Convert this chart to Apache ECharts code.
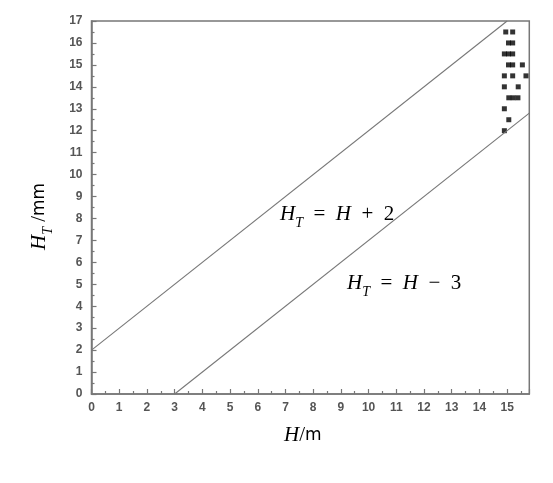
<!DOCTYPE html>
<html>
<head>
<meta charset="utf-8">
<script src="https://cdn.jsdelivr.net/npm/echarts@6/dist/echarts.min.js"></script>
<style>html,body{margin:0;padding:0;background:#fff}#c{width:553px;height:483px}</style>
</head>
<body>
<div id="c"></div>
<script>
// Boundary lines (endpoints in data units)
const upperLine = [[0, 2], [15, 17]];      // H_T = H + 2
const lowerLine = [[3, 0], [15.8, 12.8]];  // H_T = H - 3
// Measured points [H, H_T]
const measured = [
  [14.95, 16.5], [15.2, 16.5],
  [15.05, 16], [15.2, 16],
  [14.9, 15.5], [15.05, 15.5], [15.2, 15.5],
  [15.05, 15], [15.2, 15], [15.55, 15],
  [14.9, 14.5], [15.2, 14.5], [15.68, 14.5],
  [14.9, 14], [15.4, 14],
  [15.06, 13.5], [15.22, 13.5], [15.39, 13.5],
  [14.9, 13],
  [15.06, 12.5],
  [14.9, 12]
];
const xMin = 0, xMax = 15.8, yMin = 0, yMax = 17;

const chart = echarts.init(document.getElementById('c'));
const axisCommon = {
  axisLine: {show: true, lineStyle: {color: '#777', width: 1.5}},
  axisTick: {show: true, inside: true, length: 5, lineStyle: {color: '#777', width: 1.2}},
  minorTick: {show: true, splitNumber: 2, length: 3, lineStyle: {color: '#777', width: 1.2}},
  splitLine: {show: false},
  axisLabel: {color: '#555', fontSize: 12, fontFamily: 'Liberation Sans', fontWeight: 'bold'}
};
const mathRich = {
  i: {fontFamily: 'Liberation Serif', fontStyle: 'italic', fontSize: 21, color: '#000'},
  s: {fontFamily: 'Liberation Serif', fontStyle: 'italic', fontSize: 14, color: '#000', verticalAlign: 'bottom', padding: [0, 0, -5, 0]},
  n: {fontFamily: 'Liberation Serif', fontSize: 21, color: '#000'},
  m: {fontFamily: 'DejaVu Sans', fontSize: 17, color: '#000'}
};
chart.setOption({
  animation: false,
  backgroundColor: '#fff',
  grid: {left: 91.5, right: 23.7, top: 21, bottom: 89, show: true, borderColor: '#777', borderWidth: 1.5},
  xAxis: Object.assign({}, axisCommon, {
    type: 'value', min: xMin, max: xMax, interval: 1,
    axisLabel: Object.assign({}, axisCommon.axisLabel, {margin: 8, showMaxLabel: false})
  }),
  yAxis: Object.assign({}, axisCommon, {
    type: 'value', min: yMin, max: yMax, interval: 1,
    axisLabel: Object.assign({}, axisCommon.axisLabel, {margin: 9})
  }),
  graphic: [
    {type: 'text', left: 280, top: 204, style: {text: '{i|H}{s|T}{n|  =  }{i|H}{n|  +  2}', rich: mathRich}},
    {type: 'text', left: 347, top: 273, style: {text: '{i|H}{s|T}{n|  =  }{i|H}{n|  −  3}', rich: mathRich}},
    {type: 'text', left: 284, top: 425, style: {text: '{i|H}{n|/}{m|m}', rich: mathRich}},
    {type: 'text', x: 29, y: 250, rotation: Math.PI / 2,
      style: {text: '{i|H}{s|T}{n| /}{m|mm}', rich: mathRich}}
  ],
  series: [
    {type: 'line', data: upperLine, symbol: 'none', lineStyle: {color: '#777', width: 1.1}, silent: true},
    {type: 'line', data: lowerLine, symbol: 'none', lineStyle: {color: '#777', width: 1.1}, silent: true},
    {type: 'scatter', data: measured, symbol: 'rect', symbolSize: 5, itemStyle: {color: '#000'}}
  ]
});
</script>
</body>
</html>
